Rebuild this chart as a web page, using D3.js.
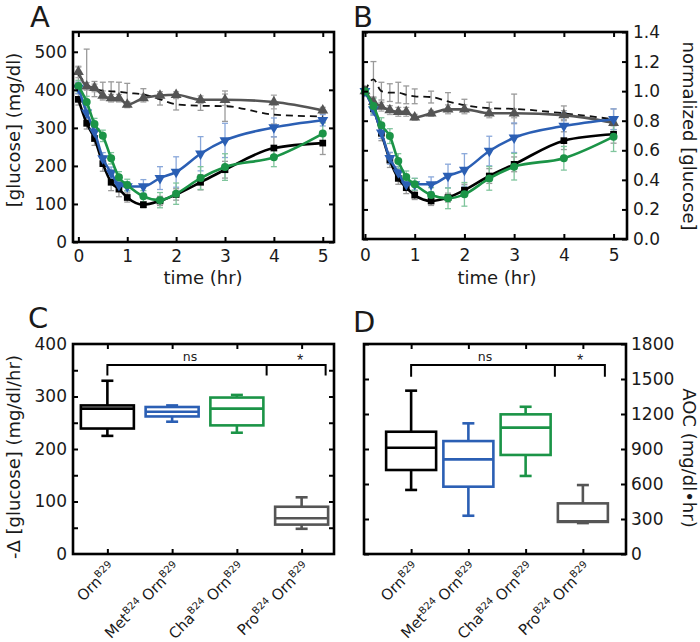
<!DOCTYPE html>
<html><head><meta charset="utf-8">
<script src="https://cdn.jsdelivr.net/npm/d3@7"></script>
<style>
html,body{margin:0;padding:0;background:#fff;}
svg{display:block;font-family:"DejaVu Sans",Arial,sans-serif;}
</style></head>
<body><svg id="c" width="700" height="642"></svg>
<script>
// ---------- DATA ----------
const times = [0, 0.17, 0.33, 0.5, 0.67, 0.83, 1, 1.33, 1.67, 2, 2.5, 3, 4, 5];
const xTicks = [0, 1, 2, 3, 4, 5];

// Panel A: [glucose] (mg/dl)
const ornA  = [375, 312, 272, 206, 157, 139, 117, 98, 108, 125, 157, 190, 247, 260];
const metA  = [405, 340, 290, 220, 182, 150, 146, 146, 168, 184, 232, 267, 301, 320];
const chaA  = [410, 368, 310, 279, 220, 170, 150, 120, 110, 127, 168, 197, 223, 285];
const proA  = [447, 409, 405, 385, 378, 378, 361, 378, 385, 387, 374, 374, 368, 346];
const ctrlA = [440, 415, 402, 398, 396, 395, 392, 388, 375, 362, 358, 357, 335, 330];
const ornAerr  = [15, 15, 18, 20, 22, 20, 12, 8, 12, 15, 20, 22, 30, 30];
const metAerr  = [15, 15, 15, 15, 15, 15, 12, 18, 30, 40, 45, 45, 25, 15];
const chaAerr  = [15, 15, 15, 15, 15, 15, 15, 15, 20, 28, 30, 35, 25, 28];
const proAerr  = [15, 10, 10, 12, 10, 10, 8, 10, 10, 8, 10, 15, 18, 8];
const ctrlAerr = [20, 92, 20, 22, 25, 25, 25, 15, 15, 15, 12, 40, 25, 15];
const yTicksA = [0, 100, 200, 300, 400, 500];

// Panel B: normalized [glucose]
const ornB  = [1.0, 0.88, 0.715, 0.534, 0.41, 0.347, 0.297, 0.257, 0.28, 0.33, 0.426, 0.505, 0.665, 0.708];
const metB  = [1.0, 0.877, 0.72, 0.546, 0.45, 0.37, 0.37, 0.37, 0.426, 0.467, 0.595, 0.685, 0.764, 0.81];
const chaB  = [1.0, 0.9, 0.77, 0.696, 0.527, 0.42, 0.37, 0.297, 0.275, 0.302, 0.41, 0.489, 0.546, 0.692];
const proB  = [1.0, 0.928, 0.895, 0.872, 0.86, 0.86, 0.823, 0.85, 0.877, 0.877, 0.85, 0.85, 0.838, 0.786];
const ctrlB = [1.0, 1.08, 1.0, 0.99, 0.99, 0.975, 0.965, 0.96, 0.93, 0.905, 0.885, 0.88, 0.85, 0.81];
const ornBerr  = [0, 0.04, 0.05, 0.05, 0.04, 0.04, 0.03, 0.03, 0.03, 0.04, 0.05, 0.05, 0.06, 0.06];
const metBerr  = [0, 0.04, 0.04, 0.04, 0.04, 0.04, 0.04, 0.05, 0.08, 0.11, 0.10, 0.10, 0.09, 0.07];
const chaBerr  = [0, 0.05, 0.05, 0.05, 0.05, 0.04, 0.04, 0.05, 0.07, 0.08, 0.08, 0.09, 0.08, 0.10];
const proBerr  = [0, 0.03, 0.03, 0.03, 0.03, 0.03, 0.02, 0.02, 0.03, 0.03, 0.03, 0.03, 0.03, 0.02];
const ctrlBerr = [0, 0.12, 0.06, 0.06, 0.07, 0.06, 0.05, 0.04, 0.06, 0.04, 0.04, 0.10, 0.05, 0.07];
const yTicksB = [0, 0.2, 0.4, 0.6, 0.8, 1.0, 1.2, 1.4];

// Categories for box plots: [text, isSuperscript]
const categories = ["Orn", "MetOrn", "ChaOrn", "ProOrn"];
const catLabels = [
  [["Orn", false], ["B29", true]],
  [["Met", false], ["B24", true], [" Orn", false], ["B29", true]],
  [["Cha", false], ["B24", true], [" Orn", false], ["B29", true]],
  [["Pro", false], ["B24", true], [" Orn", false], ["B29", true]]
];

// Panel C: -Δ[glucose] (mg/dl/hr)
const cLow  = [225, 252, 231, 48];
const cQ1   = [239, 262, 245, 56];
const cMed  = [277, 271, 277, 68];
const cQ3   = [283, 280, 298, 90];
const cHigh = [330, 283, 303, 108];
const yTicksC = [0, 100, 200, 300, 400];
const yMinorC = [50, 100, 150, 200, 250, 300, 350];

// Panel D: AOC (mg/dl•hr)
const dLow  = [549, 328, 669, 265];
const dQ1   = [720, 577, 849, 275];
const dMed  = [911, 811, 1083, 280];
const dQ3   = [1048, 968, 1197, 434];
const dHigh = [1400, 1120, 1262, 591];
const yTicksD = [0, 300, 600, 900, 1200, 1500, 1800];

const colors = ["#000000", "#2b5fb4", "#1b9447", "#555555"];
const errColors = ["#9a9a9a", "#8aa8da", "#80c59d", "#a8a8a8"];

// ---------- DRAW ----------
const svg = d3.select("#c");
const FONT = '"DejaVu Sans", Arial, sans-serif';

function frame(g, x0, x1, y0, y1) {
  g.append("rect").attr("x", x0).attr("y", y0).attr("width", x1 - x0).attr("height", y1 - y0)
    .attr("fill", "none").attr("stroke", "#000").attr("stroke-width", 2.6);
}
function styleAxis(sel, size) {
  sel.select(".domain").remove();
  sel.selectAll(".tick line").attr("stroke", "#000").attr("stroke-width", 2);
  sel.selectAll(".tick text").attr("font-family", FONT).attr("font-size", size || 17).attr("fill", "#1a1a1a");
}

function linePanel(cfg) {
  const { x, y, series, errs, x0, x1, y0, y1 } = cfg;
  const g = svg.append("g");
  const drawOrder = [4, 3, 0, 1, 2];
  drawOrder.forEach(si => {
    const vals = series[si], e = errs[si];
    const col = si === 4 ? "#9a9a9a" : errColors[si];
    times.forEach((t, i) => {
      if (!e[i]) return;
      const cx = x(t);
      g.append("line").attr("x1", cx).attr("x2", cx).attr("y1", y(vals[i] - e[i])).attr("y2", y(vals[i] + e[i]))
        .attr("stroke", col).attr("stroke-width", 1.3);
      [vals[i] - e[i], vals[i] + e[i]].forEach(v => {
        g.append("line").attr("x1", cx - 3).attr("x2", cx + 3).attr("y1", y(v)).attr("y2", y(v))
          .attr("stroke", col).attr("stroke-width", 1.3);
      });
    });
  });
  const line = d3.line().x((d, i) => x(times[i])).y(d => y(d)).curve(d3.curveMonotoneX);
  g.append("path").attr("d", line(series[4])).attr("fill", "none").attr("stroke", "#111")
    .attr("stroke-width", 1.8).attr("stroke-dasharray", "7,5");
  const shapes = [d3.symbolSquare, d3.symbolTriangle, d3.symbolCircle, d3.symbolTriangle];
  const sizes = [45, 52, 50, 52];
  [3, 0, 1, 2].forEach(si => {
    g.append("path").attr("d", line(series[si])).attr("fill", "none").attr("stroke", colors[si])
      .attr("stroke-width", 2.6);
    series[si].forEach((v, i) => {
      const rot = si === 1 ? 180 : 0;
      g.append("path").attr("d", d3.symbol().type(shapes[si]).size(sizes[si])())
        .attr("transform", `translate(${x(times[i])},${y(v)}) rotate(${rot})`)
        .attr("fill", colors[si]);
    });
  });
  frame(g, x0, x1, y0, y1);
}

// ----- Panel A -----
const xA = d3.scaleLinear().domain([-0.11, 5.23]).range([73, 334]);
const yA = d3.scaleLinear().domain([0, 552]).range([242, 32]);
linePanel({ x: xA, y: yA, series: [ornA, metA, chaA, proA, ctrlA], errs: [ornAerr, metAerr, chaAerr, proAerr, ctrlAerr], x0: 73, x1: 334, y0: 32, y1: 242 });
styleAxis(svg.append("g").attr("transform", "translate(73,0)").call(d3.axisLeft(yA).tickValues(yTicksA).tickSize(-5).tickPadding(6)));
styleAxis(svg.append("g").attr("transform", "translate(334,0)").call(d3.axisRight(yA).tickValues(yTicksA).tickSize(-5).tickFormat("")));
styleAxis(svg.append("g").attr("transform", "translate(0,242)").call(d3.axisBottom(xA).tickValues(xTicks).tickSize(-5).tickPadding(8).tickFormat(d3.format("d"))));
styleAxis(svg.append("g").attr("transform", "translate(0,32)").call(d3.axisTop(xA).tickValues(xTicks).tickSize(-5).tickFormat("")));

// ----- Panel B -----
const xB = d3.scaleLinear().domain([-0.04, 5.27]).range([363, 627]);
const yB = d3.scaleLinear().domain([0, 1.4]).range([239, 32]);
linePanel({ x: xB, y: yB, series: [ornB, metB, chaB, proB, ctrlB], errs: [ornBerr, metBerr, chaBerr, proBerr, ctrlBerr], x0: 363, x1: 627, y0: 32, y1: 239 });
styleAxis(svg.append("g").attr("transform", "translate(627,0)").call(d3.axisRight(yB).tickValues(yTicksB).tickSize(-5).tickPadding(6).tickFormat(d3.format(".1f"))));
styleAxis(svg.append("g").attr("transform", "translate(363,0)").call(d3.axisLeft(yB).tickValues(yTicksB).tickSize(-5).tickFormat("")));
styleAxis(svg.append("g").attr("transform", "translate(0,239)").call(d3.axisBottom(xB).tickValues(xTicks).tickSize(-5).tickPadding(10).tickFormat(d3.format("d"))));
styleAxis(svg.append("g").attr("transform", "translate(0,32)").call(d3.axisTop(xB).tickValues(xTicks).tickSize(-5).tickFormat("")));

// ----- Box panels -----
function boxPanel(cfg) {
  const { x, y, low, q1, med, q3, high, boxW, x0, x1, y0, y1 } = cfg;
  const g = svg.append("g");
  categories.forEach((c, i) => {
    const cx = x(c), col = colors[i];
    const sw = 2.6;
    g.append("line").attr("x1", cx).attr("x2", cx).attr("y1", y(q3[i])).attr("y2", y(high[i])).attr("stroke", col).attr("stroke-width", sw);
    g.append("line").attr("x1", cx).attr("x2", cx).attr("y1", y(q1[i])).attr("y2", y(low[i])).attr("stroke", col).attr("stroke-width", sw);
    [low[i], high[i]].forEach(v => g.append("line").attr("x1", cx - 6).attr("x2", cx + 6).attr("y1", y(v)).attr("y2", y(v)).attr("stroke", col).attr("stroke-width", sw));
    g.append("rect").attr("x", cx - boxW / 2).attr("y", y(q3[i])).attr("width", boxW).attr("height", y(q1[i]) - y(q3[i]))
      .attr("fill", "#fff").attr("stroke", col).attr("stroke-width", sw);
    g.append("line").attr("x1", cx - boxW / 2).attr("x2", cx + boxW / 2).attr("y1", y(med[i])).attr("y2", y(med[i])).attr("stroke", col).attr("stroke-width", sw);
  });
  frame(g, x0, x1, y0, y1);
  styleAxis(svg.append("g").attr("transform", `translate(0,${y1})`).call(d3.axisBottom(x).tickSize(-5).tickFormat("")));
  styleAxis(svg.append("g").attr("transform", `translate(0,${y0})`).call(d3.axisTop(x).tickSize(-5).tickFormat("")));
  categories.forEach((c, i) => {
    const t = svg.append("text").attr("font-family", FONT).attr("font-size", 15).attr("fill", "#1a1a1a")
      .attr("text-anchor", "end")
      .attr("transform", `translate(${x(c) + 9},${y1 + 15}) rotate(-45)`);
    catLabels[i].forEach(([s, sup], k) => {
      const ts = t.append("tspan").text(s);
      if (sup) ts.attr("font-size", 10).attr("dy", -6);
      else if (k > 0) ts.attr("dy", 6);
    });
  });
}

const xC = d3.scalePoint().domain(categories).range([75, 334]).padding(0.5);
const yC = d3.scaleLinear().domain([0, 400]).range([554, 344]);
boxPanel({ x: xC, y: yC, low: cLow, q1: cQ1, med: cMed, q3: cQ3, high: cHigh, boxW: 53, x0: 73, x1: 334, y0: 344, y1: 554 });
styleAxis(svg.append("g").attr("transform", "translate(73,0)").call(d3.axisLeft(yC).tickValues(yTicksC).tickSize(0).tickPadding(6)));
styleAxis(svg.append("g").attr("transform", "translate(73,0)").call(d3.axisLeft(yC).tickValues(yMinorC).tickSize(-5).tickFormat("")));
styleAxis(svg.append("g").attr("transform", "translate(334,0)").call(d3.axisRight(yC).tickValues(yMinorC).tickSize(-5).tickFormat("")));

const xD = d3.scalePoint().domain(categories).range([382.5, 611.5]).padding(0.5);
const yD = d3.scaleLinear().domain([0, 1800]).range([554, 344]);
boxPanel({ x: xD, y: yD, low: dLow, q1: dQ1, med: dMed, q3: dQ3, high: dHigh, boxW: 50, x0: 364, x1: 626, y0: 344, y1: 554 });
styleAxis(svg.append("g").attr("transform", "translate(626,0)").call(d3.axisRight(yD).tickValues(yTicksD).tickSize(-5).tickPadding(5).tickFormat(d3.format("d"))));
styleAxis(svg.append("g").attr("transform", "translate(364,0)").call(d3.axisLeft(yD).tickValues(yTicksD).tickSize(-5).tickFormat("")));

// significance brackets
function bracket(x, y, top, foot, cat0, cat3, midOff, endOff, nsX, starX) {
  const yt = y(top), yf = y(foot);
  const xl = x(cat0), xm = x(cat3) + midOff, xr = x(cat3) + endOff;
  const g = svg.append("g").attr("stroke", "#000").attr("stroke-width", 2).attr("fill", "none");
  g.append("path").attr("d", `M${xl},${yf}V${yt}H${xr}V${yf}M${xm},${yt}V${yf}`);
  svg.append("text").attr("x", nsX).attr("y", yt - 4).attr("text-anchor", "middle").attr("font-family", FONT).attr("font-size", 12.5).attr("fill", "#222").text("ns");
  svg.append("text").attr("x", starX).attr("y", yt + 1).attr("text-anchor", "middle").attr("font-family", "Liberation Sans, Arial, sans-serif").attr("font-size", 16).attr("fill", "#222").text("*");
}
bracket(xC, yC, 360, 340, "Orn", "ProOrn", -35, 24, 190, 300);
bracket(xD, yD, 1620, 1520, "Orn", "ProOrn", -28, 22, 485, 580);

// axis titles
function txt(x, y, s, size, rot, anchor) {
  svg.append("text").attr("font-family", FONT).attr("font-size", size).attr("fill", "#1a1a1a")
    .attr("text-anchor", anchor || "middle")
    .attr("transform", `translate(${x},${y})` + (rot ? ` rotate(${rot})` : "")).text(s);
}
txt(20, 130, "[glucose] (mg/dl)", 18, -90);
txt(203, 284, "time (hr)", 18);
txt(497, 284, "time (hr)", 18);
txt(683, 136, "normalized [glucose]", 18, 90);
txt(20, 457, "-Δ [glucose] (mg/dl/hr)", 18, -90);
txt(683, 458, "AOC (mg/dl•hr)", 18, 90);

// panel letters
txt(30, 27, "A", 29, 0, "start");
txt(353, 27, "B", 29, 0, "start");
txt(28, 328, "C", 29, 0, "start");
txt(353, 332, "D", 29, 0, "start");
</script></body></html>
